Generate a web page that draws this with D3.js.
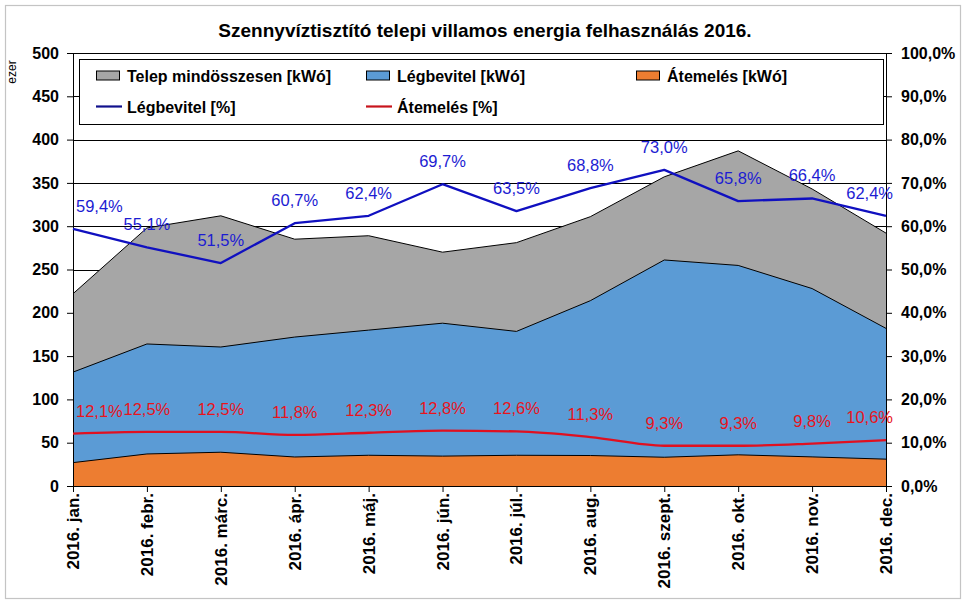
<!DOCTYPE html>
<html>
<head>
<meta charset="utf-8">
<script src="https://cdn.jsdelivr.net/npm/d3@7"></script>
<style>
  html, body { margin: 0; padding: 0; background: #fff; }
  svg { display: block; font-family: "Liberation Sans", Arial, sans-serif; }
</style>
</head>
<body>
<svg id="chart" width="970" height="604"></svg>
<script>
// ---- Data ----
const categories = ["2016. jan.", "2016. febr.", "2016. márc.", "2016. ápr.", "2016. máj.", "2016. jún.",
                    "2016. júl.", "2016. aug.", "2016. szept.", "2016. okt.", "2016. nov.", "2016. dec."];
const telepTotal = [222, 298, 312, 285, 289, 270, 281, 311, 357, 387, 343, 292];   // ezer kWó
const legbevitel = [131.5, 164, 160.5, 172, 180, 188, 178.5, 214, 261, 254.7, 228, 182];
const atemeles   = [27, 37, 39, 33.5, 35.5, 34.5, 35.5, 35.2, 33.2, 36, 33.6, 31];
const legbevitelPct = [59.4, 55.1, 51.5, 60.7, 62.4, 69.7, 63.5, 68.8, 73.0, 65.8, 66.4, 62.4];
const atemelesPct   = [12.1, 12.5, 12.5, 11.8, 12.3, 12.8, 12.6, 11.3, 9.3, 9.3, 9.8, 10.6];
const leftTicks  = [0, 50, 100, 150, 200, 250, 300, 350, 400, 450, 500];
const rightTicks = [0, 10, 20, 30, 40, 50, 60, 70, 80, 90, 100];

// ---- Layout ----
const svg = d3.select("#chart");
const L = 73, R = 886, T = 53, B = 486;
const FONT = '"Liberation Sans", Arial, sans-serif';

const x = d3.scalePoint().domain(categories).range([L, R]).padding(0);
const yL = d3.scaleLinear().domain([0, 500]).range([B, T]);
const yR = d3.scaleLinear().domain([0, 100]).range([B, T]);

const fmtPct = v => d3.format(".1f")(v).replace(".", ",") + "%";

// outer chart border
svg.append("rect").attr("x", 5.5).attr("y", 5.5).attr("width", 955).attr("height", 593)
  .attr("fill", "#fff").attr("stroke", "#c4c4c4").attr("stroke-width", 1.2);

// title
svg.append("text").attr("x", 485).attr("y", 37).attr("text-anchor", "middle")
  .attr("font-size", 19).attr("font-weight", "bold").attr("fill", "#000")
  .text("Szennyvíztisztító telepi villamos energia felhasználás 2016.");

// gridlines
svg.append("g").selectAll("line").data(leftTicks).join("line")
  .attr("x1", L).attr("x2", R)
  .attr("y1", d => Math.round(yL(d)) + 0.5).attr("y2", d => Math.round(yL(d)) + 0.5)
  .attr("stroke", "#000").attr("stroke-width", 1);

const cats = categories.map((c, i) => i);
function areaOf(vals) {
  return d3.area().x(i => x(categories[i])).y0(yL(0)).y1(i => yL(vals[i]))(cats);
}
function lineOf(vals, scale, curve) {
  return d3.line().x(i => x(categories[i])).y(i => scale(vals[i])).curve(curve || d3.curveLinear)(cats);
}

// areas (overlapping, not stacked)
const areaSeries = [
  { vals: telepTotal, fill: "#a6a6a6" },
  { vals: legbevitel, fill: "#5b9bd5" },
  { vals: atemeles,   fill: "#ed7d31" }
];
areaSeries.forEach(s => {
  svg.append("path").attr("d", areaOf(s.vals)).attr("fill", s.fill);
  svg.append("path").attr("d", lineOf(s.vals, yL)).attr("fill", "none")
    .attr("stroke", "#000").attr("stroke-width", 1);
});

// axes
const gL = svg.append("g").attr("transform", `translate(${L},0)`)
  .call(d3.axisLeft(yL).tickValues(leftTicks).tickSize(6).tickPadding(8).tickFormat(d3.format("d")));
const gR = svg.append("g").attr("transform", `translate(${R},0)`)
  .call(d3.axisRight(yR).tickValues(rightTicks).tickSize(6).tickPadding(9).tickFormat(d => fmtPct(d)));
const gX = svg.append("g").attr("transform", `translate(0,${B})`)
  .call(d3.axisBottom(x).tickSize(6).tickFormat(""));
[gL, gR, gX].forEach(g => {
  g.select(".domain").attr("stroke", "#000").attr("stroke-width", 1);
  g.selectAll(".tick line").attr("stroke", "#000");
  g.selectAll("text").attr("font-family", FONT).attr("font-size", 16)
    .attr("font-weight", "bold").attr("fill", "#000");
});
// top border of plot
svg.append("line").attr("x1", L).attr("x2", R).attr("y1", T + 0.5).attr("y2", T + 0.5).attr("stroke", "#000");

// rotated x labels
svg.append("g").selectAll("text").data(categories).join("text")
  .attr("transform", d => `translate(${x(d) + 6},493) rotate(-90)`)
  .attr("text-anchor", "end").attr("font-size", 17).attr("font-weight", "bold").attr("fill", "#000")
  .text(d => d);

// "ezer" unit label
svg.append("text").attr("transform", "translate(16,72) rotate(-90)")
  .attr("text-anchor", "middle").attr("font-size", 12).attr("fill", "#000").text("ezer");

// percentage lines
svg.append("path").attr("d", lineOf(legbevitelPct, yR)).attr("fill", "none")
  .attr("stroke", "#1010c0").attr("stroke-width", 2.3).attr("stroke-linejoin", "round");
svg.append("path").attr("d", lineOf(atemelesPct, yR, d3.curveMonotoneX)).attr("fill", "none")
  .attr("stroke", "#e01020").attr("stroke-width", 2.3).attr("stroke-linejoin", "round");

// data labels
function labels(vals, color) {
  const g = svg.append("g");
  vals.forEach((v, i) => {
    const t = g.append("text").attr("font-size", 16.5).attr("fill", color)
      .attr("text-anchor", "middle").text(fmtPct(v));
    const w = t.node().getComputedTextLength();
    let cx = x(categories[i]);
    cx = Math.max(76 + w / 2, Math.min(893 - w / 2, cx));
    t.attr("x", cx).attr("y", yR(v) - 17);
  });
}
labels(legbevitelPct, "#1c1cd2");
labels(atemelesPct, "#e8141c");

// legend
const lg = svg.append("g");
lg.append("rect").attr("x", 79.5).attr("y", 59.5).attr("width", 804).attr("height", 65)
  .attr("fill", "#fff").attr("stroke", "#000").attr("stroke-width", 1);
const legendItems = [
  { type: "rect", fill: "#a6a6a6", label: "Telep mindösszesen [kWó]", sx: 96, row: 0 },
  { type: "rect", fill: "#5b9bd5", label: "Légbevitel [kWó]", sx: 366, row: 0 },
  { type: "rect", fill: "#ed7d31", label: "Átemelés [kWó]", sx: 636, row: 0 },
  { type: "line", fill: "#10108c", label: "Légbevitel [%]", sx: 96, row: 1 },
  { type: "line", fill: "#c8141c", label: "Átemelés [%]", sx: 366, row: 1 }
];
legendItems.forEach(it => {
  const cy = it.row === 0 ? 75.5 : 106.5;
  if (it.type === "rect") {
    lg.append("rect").attr("x", it.sx + 0.5).attr("y", cy - 4.5).attr("width", 23).attr("height", 9)
      .attr("fill", it.fill).attr("stroke", "#000").attr("stroke-width", 1);
  } else {
    lg.append("line").attr("x1", it.sx).attr("x2", it.sx + 26).attr("y1", cy).attr("y2", cy)
      .attr("stroke", it.fill).attr("stroke-width", 2.2);
  }
  lg.append("text").attr("x", it.sx + 31).attr("y", cy + 6).attr("font-size", 16)
    .attr("font-weight", "bold").attr("fill", "#000").text(it.label);
});
</script>
</body>
</html>
